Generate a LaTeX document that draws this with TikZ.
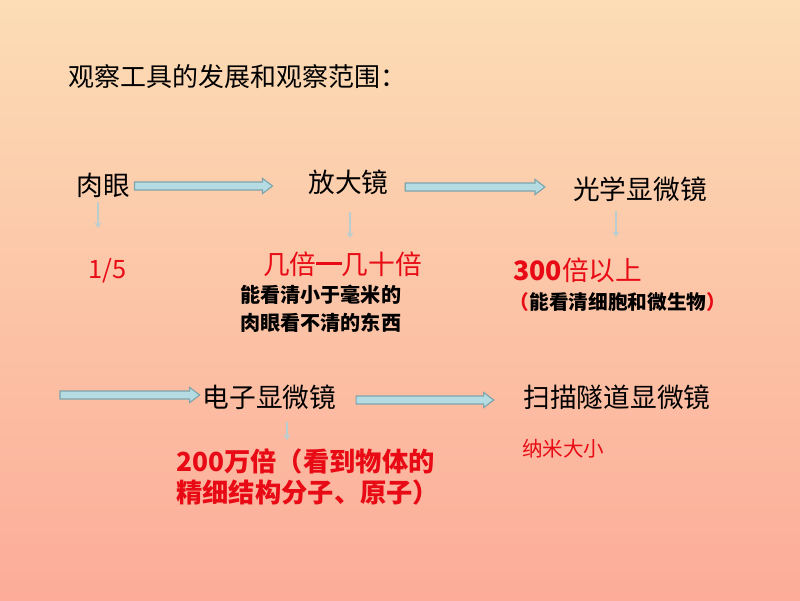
\documentclass[tikz,border=0pt]{standalone}
\usepackage{fontspec}
\setmainfont{Noto Sans CJK SC}
\usepackage{tikz}
\usetikzlibrary{arrows.meta}
\usetikzlibrary{calc}

\definecolor{bgtop}{RGB}{252,221,181}
\definecolor{bgbot}{RGB}{252,172,153}
\definecolor{arrowfill}{RGB}{180,220,226}
\definecolor{arrowline}{RGB}{126,164,172}
\definecolor{downline}{RGB}{186,206,210}
\definecolor{labelred}{RGB}{232,10,20}

\begin{document}
\begin{tikzpicture}[
  tool/.style={inner sep=0pt,font=\fontsize{19pt}{22pt}\selectfont},
  rangetext/.style={inner sep=0pt,text=labelred,font=\fontsize{19pt}{22pt}\selectfont},
  note/.style={inner sep=0pt,align=left,font=\bfseries\fontsize{14.3pt}{20pt}\selectfont},
  blockarrow/.style={draw=arrowline,fill=arrowfill,line width=0.8pt,
    to path={let \p1=(\tikztostart), \p2=(\tikztotarget) in
      (\x1,\y1-0.1cm) -- (\x2-0.25cm,\y1-0.1cm) -- (\x2-0.25cm,\y1-0.19cm) -- (\x2,\y1)
      -- (\x2-0.25cm,\y1+0.19cm) -- (\x2-0.25cm,\y1+0.1cm) -- (\x1,\y1+0.1cm) -- cycle}},
  downarrow/.style={draw=downline,line width=1.3pt,-{Stealth[length=4pt,width=5pt]}}]

  \shade[top color=bgtop,bottom color=bgbot] (0,0) rectangle (20,15);
  \useasboundingbox (0,0) rectangle (20,15);

  \node[tool,anchor=west,font=\fontsize{18.5pt}{22pt}\selectfont] (T) at (1.7,13.075) {观察工具的发展和观察范围：};

  \node[tool] (A) at (2.5875,10.375) {肉眼};
  \node[tool] (B) at (8.7125,10.45) {放大镜};
  \node[tool] (C) at (16.0,10.275) {光学显微镜};
  \node[tool] (D) at (6.7375,5.075) {电子显微镜};
  \node[tool] (E) at (15.425,5.075) {扫描隧道显微镜};

  \node[rangetext,font=\fontsize{18pt}{22pt}\selectfont] (A1) at (2.6875,8.225) {1/5};
  \node[rangetext] (B1) at (8.5625,8.4) {几倍\rule[0.33em]{0.95em}{0.13em}几十倍};
  \node[note,anchor=west] (B2) at (6.0,7.275) {能看清小于毫米的\\肉眼看不清的东西};
  \node[rangetext,anchor=west] (C1) at (12.825,8.25) {{\bfseries 300}倍以上};
  \node[note,font=\bfseries\fontsize{14pt}{20pt}\selectfont] (C2) at (15.45,7.45)
    {{\color{labelred}（}能看清细胞和微生物{\color{labelred}）}};
  \node[rangetext,anchor=west,align=left,font=\bfseries\fontsize{18.7pt}{22pt}\selectfont] (D1) at (4.4,3.0875)
    {200万倍（看到物体的\\精细结构分子、原子）};
  \node[rangetext,anchor=west,font=\fontsize{14.6pt}{18pt}\selectfont] (E1) at (13.05,3.775) {纳米大小};

  \coordinate (S) at (1.5,5.125);
  \coordinate (a) at (2.45,9.3);
  \coordinate (b) at (8.75,9.05);
  \coordinate (c) at (15.4,9.075);
  \coordinate (d) at (7.175,4.0);

  \draw[blockarrow] ([xshift=0.1cm,yshift=-0.025cm]A.east) to ([xshift=-0.89cm]B.west);
  \draw[blockarrow] ([xshift=0.41cm,yshift=-0.125cm]B.east) to ([xshift=-0.7cm]C.west);
  \draw[blockarrow] (S) to ([xshift=-0.07cm]D.west);
  \draw[blockarrow] ([xshift=0.49cm,yshift=-0.075cm]D.east) to ([xshift=-0.74cm]E.west);

  \draw[downarrow,shorten <=3.5pt] (A.south -| a) -- (a);
  \draw[downarrow,shorten <=12pt] (B.south -| b) -- (b);
  \draw[downarrow,shorten <=6.8pt] (C.south -| c) -- (c);
  \draw[downarrow,shorten <=8.5pt] (D.south -| d) -- (d);

\end{tikzpicture}
\end{document}
